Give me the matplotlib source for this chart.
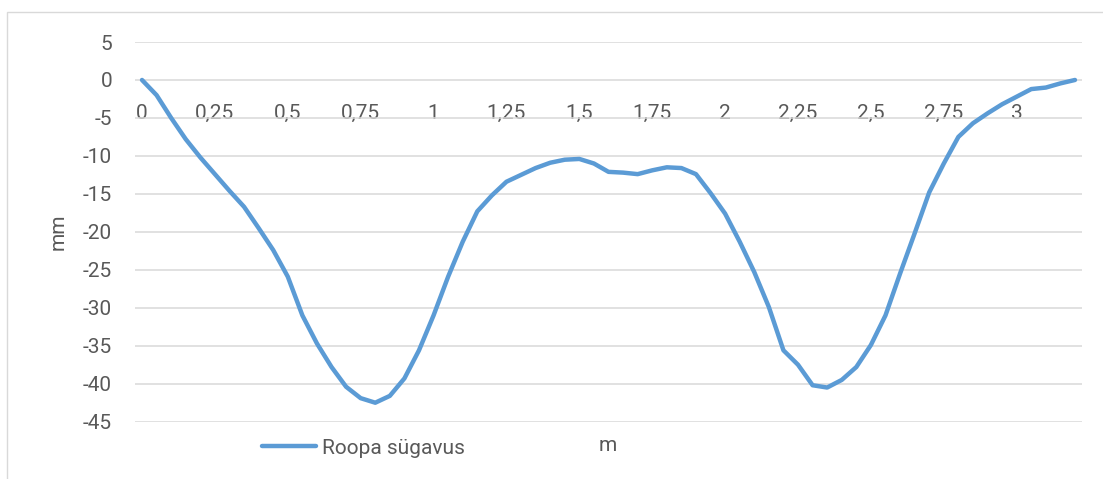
import matplotlib
matplotlib.use("Agg")
import matplotlib.pyplot as plt
from matplotlib.patches import Rectangle

# ---- data ----
distance_m = [round(i * 0.05, 2) for i in range(65)]
depth_mm = [
    0.0, -2.0, -5.0, -7.8, -10.2, -12.4, -14.6, -16.7, -19.5, -22.4,
    -25.9, -31.0, -34.7, -37.8, -40.4, -41.9, -42.5, -41.6, -39.3, -35.6,
    -31.0, -25.9, -21.3, -17.3, -15.2, -13.4, -12.5, -11.6, -10.9, -10.5,
    -10.4, -11.0, -12.1, -12.2, -12.4, -11.9, -11.5, -11.6, -12.4, -14.9,
    -17.6, -21.3, -25.3, -29.9, -35.6, -37.5, -40.2, -40.5, -39.5, -37.8,
    -34.9, -31.0, -25.5, -20.2, -14.8, -11.0, -7.5, -5.7, -4.4, -3.2,
    -2.2, -1.2, -1.0, -0.45, 0.0,
]
x_ticks = [0, 0.25, 0.5, 0.75, 1, 1.25, 1.5, 1.75, 2, 2.25, 2.5, 2.75, 3]
x_tick_labels = ["0", "0,25", "0,5", "0,75", "1", "1,25", "1,5", "1,75",
                 "2", "2,25", "2,5", "2,75", "3"]
y_ticks = [5, 0, -5, -10, -15, -20, -25, -30, -35, -40, -45]
y_tick_labels = ["5", "0", "-5", "-10", "-15", "-20", "-25", "-30", "-35", "-40", "-45"]
series_name = "Roopa sügavus"
x_title = "m"
y_title = "mm"

# ---- style ----
W, H = 1103, 479
TXT = "#595959"
GRID = "#D9D9D9"
LINE = "#5B9BD5"
FS = 15
plt.rcParams["font.family"] = ["Roboto", "DejaVu Sans"]

fig = plt.figure(figsize=(W / 100, H / 100), dpi=100)
left, right, top, bottom = 135, 1082, 42, 421.7
ax = fig.add_axes([left / W, 1 - bottom / H, (right - left) / W, (bottom - top) / H])

ax.plot(distance_m, depth_mm, color=LINE, lw=3.2, solid_joinstyle="round",
        solid_capstyle="round", label=series_name, zorder=3)

px_per_m = 291.2
pad_m = 7 / px_per_m
ax.set_xlim(0 - pad_m, 3.2 + pad_m)
ax.set_ylim(-45, 5)

ax.set_yticks(y_ticks)
ax.set_yticklabels(y_tick_labels)
ax.set_xticks(x_ticks)
ax.set_xticklabels(x_tick_labels)

ax.grid(axis="y", color=GRID, lw=1.1)
ax.grid(axis="x", visible=False)
ax.set_axisbelow(True)
for s in ["top", "right", "left"]:
    ax.spines[s].set_visible(False)
ax.spines["bottom"].set_position(("data", 0))
ax.spines["bottom"].set_visible(False)

ax.tick_params(axis="y", length=0, pad=16.5, labelsize=FS, labelcolor=TXT)
ax.tick_params(axis="x", length=0, pad=17.0, labelsize=FS, labelcolor=TXT)

ax.set_xlabel(x_title, fontsize=FS, color=TXT, va="baseline")
ax.xaxis.set_label_coords(0.4995, (bottom - 451) / (bottom - top))
ax.set_ylabel(y_title, fontsize=FS, color=TXT, va="center", ha="center")
ax.yaxis.set_label_coords((58 - left) / (right - left), 0.5)

leg = ax.legend(loc="center left", bbox_to_anchor=(262 / W, 1 - 448 / H),
                bbox_transform=fig.transFigure, frameon=False, fontsize=FS,
                handlelength=2.58, handletextpad=0.29, borderpad=0,
                borderaxespad=0)
for t in leg.get_texts():
    t.set_color(TXT)

# chart frame
fig.patches.append(Rectangle((6.5 / W, -0.1), 1.2, 1 - 12 / H + 0.1,
                             transform=fig.transFigure, fill=False,
                             edgecolor=GRID, lw=1.0, clip_on=False))

fig.savefig("out.png", dpi=100)
